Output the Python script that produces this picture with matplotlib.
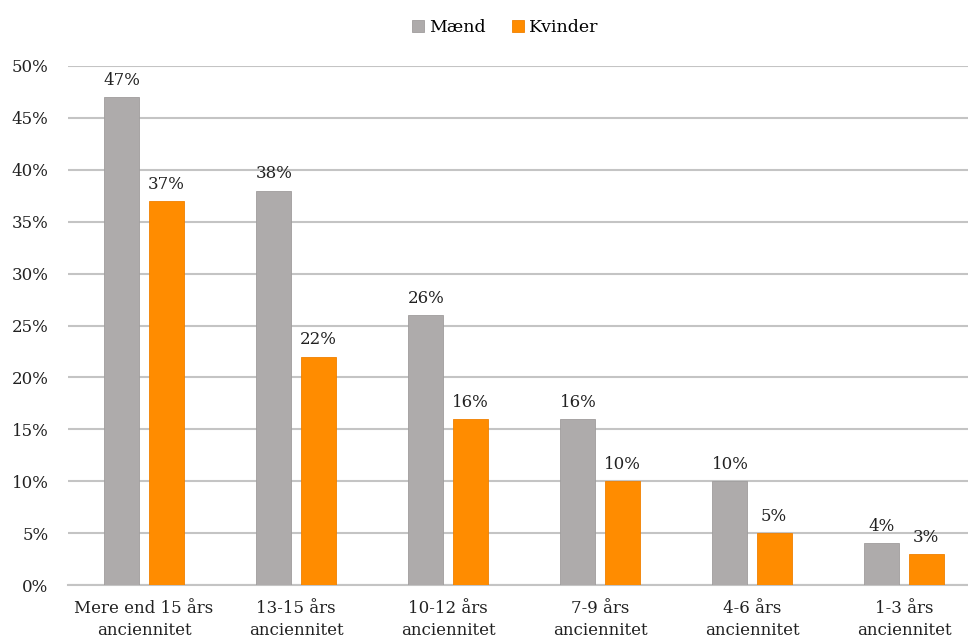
import matplotlib
matplotlib.use('Agg')
import matplotlib.pyplot as plt
import numpy as np

# data
categories = ['Mere end 15 års\nanciennitet', '13-15 års\nanciennitet', '10-12 års\nanciennitet',
              '7-9 års\nanciennitet', '4-6 års\nanciennitet', '1-3 års\nanciennitet']
maend = [47, 38, 26, 16, 10, 4]
kvinder = [37, 22, 16, 10, 5, 3]

plt.rcParams['font.family'] = 'DejaVu Serif'

fig = plt.figure(figsize=(9.68, 6.39), dpi=100)
# plot area runs past the right edge, like the original
ax = fig.add_axes([68/968, 1 - 585/639, 912/968, (585-66)/639])

x = np.arange(len(categories))
w = 0.23
off = 0.145
gray = '#aeabab'
orange = '#ff8c00'
b1 = ax.bar(x - off, maend, w, color=gray, edgecolor='#a09d9d', linewidth=0.6, label='Mænd', zorder=3)
b2 = ax.bar(x + off, kvinder, w, color=orange, edgecolor='#f08000', linewidth=0.6, label='Kvinder', zorder=3)

for bars, vals in [(b1, maend), (b2, kvinder)]:
    for b, v in zip(bars, vals):
        ax.annotate(f'{v}%', (b.get_x() + b.get_width() / 2, v), textcoords='offset points',
                    xytext=(0, 6), ha='center', va='bottom', fontsize=12, color='#222222')

ax.set_xlim(-0.5, len(categories) - 0.5)
ax.set_ylim(0, 50)
ax.set_yticks(range(0, 51, 5))
ax.set_yticklabels([f'{t}%' for t in range(0, 51, 5)])
ax.set_xticks(x)
ax.set_xticklabels(categories, linespacing=1.35)
ax.tick_params(axis='both', length=0, labelsize=12, colors='#222222')
ax.tick_params(axis='y', pad=14)
ax.tick_params(axis='x', pad=11)
ax.yaxis.grid(True, color='#c4c4c4', linewidth=1.5, zorder=0)
ax.set_axisbelow(True)
for s in ['top', 'right', 'left']:
    ax.spines[s].set_visible(False)
ax.spines['bottom'].set_color('#c4c4c4')
ax.spines['bottom'].set_linewidth(1.5)

fig.legend(loc='upper center', bbox_to_anchor=(0.522, 0.995), ncol=2, frameon=False,
           fontsize=12.5, handlelength=0.7, handleheight=0.7, handletextpad=0.3, columnspacing=1.5)

plt.savefig('out.png', dpi=100)
